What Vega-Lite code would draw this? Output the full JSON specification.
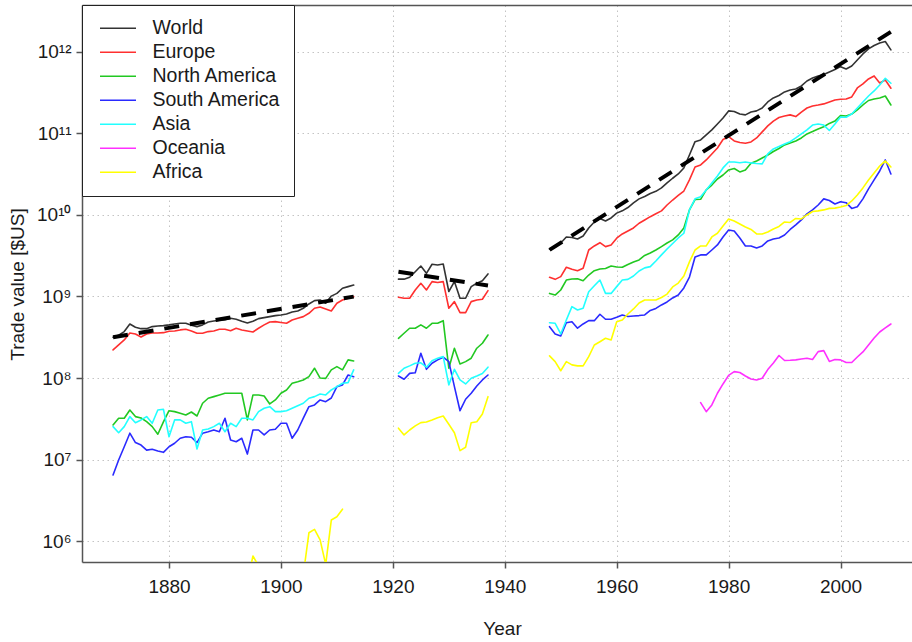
{
  "$schema": "https://vega.github.io/schema/vega-lite/v6.json",
  "width": 830,
  "height": 557,
  "autosize": {"type": "none"},
  "padding": {"left": 82, "top": 5, "right": 0, "bottom": 80},
  "background": "white",
  "config": {
    "view": {"stroke": null},
    "font": "Liberation Sans",
    "axis": {
      "domainColor": "#555555", "domainWidth": 1.5,
      "tickColor": "#555555", "tickWidth": 1.5, "tickSize": 6,
      "labelFontSize": 19, "labelColor": "#1a1a1a", "labelFont": "Liberation Sans",
      "titleFontSize": 19, "titleFontWeight": "normal", "titleColor": "#1a1a1a", "titleFont": "Liberation Sans",
      "gridColor": "#c4c4c4", "gridDash": [1.5, 3.5], "gridWidth": 1,
      "labelOverlap": false, "labelFlush": false
    }
  },
  "datasets": {
    "trade": [
      {"region":"World","period":"1","year":1870,"value":3.16e8},{"region":"World","period":"1","year":1871,"value":3.35e8},{"region":"World","period":"1","year":1872,"value":3.71e8},{"region":"World","period":"1","year":1873,"value":4.60e8},{"region":"World","period":"1","year":1874,"value":4.19e8},{"region":"World","period":"1","year":1875,"value":4.03e8},{"region":"World","period":"1","year":1876,"value":4.03e8},{"region":"World","period":"1","year":1877,"value":4.27e8},{"region":"World","period":"1","year":1878,"value":4.35e8},{"region":"World","period":"1","year":1879,"value":4.39e8},{"region":"World","period":"1","year":1880,"value":4.48e8},{"region":"World","period":"1","year":1881,"value":4.60e8},{"region":"World","period":"1","year":1882,"value":4.70e8},{"region":"World","period":"1","year":1883,"value":4.70e8},{"region":"World","period":"1","year":1884,"value":4.44e8},{"region":"World","period":"1","year":1885,"value":4.27e8},{"region":"World","period":"1","year":1886,"value":4.48e8},{"region":"World","period":"1","year":1887,"value":4.87e8},{"region":"World","period":"1","year":1888,"value":5.01e8},{"region":"World","period":"1","year":1889,"value":5.11e8},{"region":"World","period":"1","year":1890,"value":5.20e8},{"region":"World","period":"1","year":1891,"value":5.41e8},{"region":"World","period":"1","year":1892,"value":5.26e8},{"region":"World","period":"1","year":1893,"value":4.97e8},{"region":"World","period":"1","year":1894,"value":4.73e8},{"region":"World","period":"1","year":1895,"value":4.97e8},{"region":"World","period":"1","year":1896,"value":5.35e8},{"region":"World","period":"1","year":1897,"value":5.50e8},{"region":"World","period":"1","year":1898,"value":5.66e8},{"region":"World","period":"1","year":1899,"value":5.82e8},{"region":"World","period":"1","year":1900,"value":5.93e8},{"region":"World","period":"1","year":1901,"value":6.10e8},{"region":"World","period":"1","year":1902,"value":6.46e8},{"region":"World","period":"1","year":1903,"value":6.64e8},{"region":"World","period":"1","year":1904,"value":7.17e8},{"region":"World","period":"1","year":1905,"value":8.09e8},{"region":"World","period":"1","year":1906,"value":8.88e8},{"region":"World","period":"1","year":1907,"value":9.06e8},{"region":"World","period":"1","year":1908,"value":8.26e8},{"region":"World","period":"1","year":1909,"value":1.01e9},{"region":"World","period":"1","year":1910,"value":1.09e9},{"region":"World","period":"1","year":1911,"value":1.26e9},{"region":"World","period":"1","year":1912,"value":1.32e9},{"region":"World","period":"1","year":1913,"value":1.38e9},
      {"region":"World","period":"2","year":1921,"value":1.63e9},{"region":"World","period":"2","year":1922,"value":1.63e9},{"region":"World","period":"2","year":1923,"value":1.72e9},{"region":"World","period":"2","year":1924,"value":2.01e9},{"region":"World","period":"2","year":1925,"value":2.36e9},{"region":"World","period":"2","year":1926,"value":1.92e9},{"region":"World","period":"2","year":1927,"value":2.48e9},{"region":"World","period":"2","year":1928,"value":2.43e9},{"region":"World","period":"2","year":1929,"value":2.50e9},{"region":"World","period":"2","year":1930,"value":1.15e9},{"region":"World","period":"2","year":1931,"value":1.52e9},{"region":"World","period":"2","year":1932,"value":9.5e8},{"region":"World","period":"2","year":1933,"value":9.5e8},{"region":"World","period":"2","year":1934,"value":1.32e9},{"region":"World","period":"2","year":1935,"value":1.45e9},{"region":"World","period":"2","year":1936,"value":1.56e9},{"region":"World","period":"2","year":1937,"value":1.89e9},
      {"region":"World","period":"3","year":1948,"value":3.79e9},{"region":"World","period":"3","year":1949,"value":4.04e9},{"region":"World","period":"3","year":1950,"value":4.52e9},{"region":"World","period":"3","year":1951,"value":5.36e9},{"region":"World","period":"3","year":1952,"value":5.28e9},{"region":"World","period":"3","year":1953,"value":5.07e9},{"region":"World","period":"3","year":1954,"value":5.51e9},{"region":"World","period":"3","year":1955,"value":6.91e9},{"region":"World","period":"3","year":1956,"value":8.18e9},{"region":"World","period":"3","year":1957,"value":9.03e9},{"region":"World","period":"3","year":1958,"value":8.42e9},{"region":"World","period":"3","year":1959,"value":9.16e9},{"region":"World","period":"3","year":1960,"value":1.05e10},{"region":"World","period":"3","year":1961,"value":1.12e10},{"region":"World","period":"3","year":1962,"value":1.23e10},{"region":"World","period":"3","year":1963,"value":1.40e10},{"region":"World","period":"3","year":1964,"value":1.57e10},{"region":"World","period":"3","year":1965,"value":1.68e10},{"region":"World","period":"3","year":1966,"value":1.83e10},{"region":"World","period":"3","year":1967,"value":1.94e10},{"region":"World","period":"3","year":1968,"value":2.14e10},{"region":"World","period":"3","year":1969,"value":2.46e10},{"region":"World","period":"3","year":1970,"value":2.81e10},{"region":"World","period":"3","year":1971,"value":3.17e10},{"region":"World","period":"3","year":1972,"value":3.76e10},{"region":"World","period":"3","year":1973,"value":5.42e10},{"region":"World","period":"3","year":1974,"value":7.89e10},{"region":"World","period":"3","year":1975,"value":8.28e10},{"region":"World","period":"3","year":1976,"value":9.53e10},{"region":"World","period":"3","year":1977,"value":1.10e11},{"region":"World","period":"3","year":1978,"value":1.30e11},{"region":"World","period":"3","year":1979,"value":1.54e11},{"region":"World","period":"3","year":1980,"value":1.88e11},{"region":"World","period":"3","year":1981,"value":1.85e11},{"region":"World","period":"3","year":1982,"value":1.72e11},{"region":"World","period":"3","year":1983,"value":1.68e11},{"region":"World","period":"3","year":1984,"value":1.82e11},{"region":"World","period":"3","year":1985,"value":1.88e11},{"region":"World","period":"3","year":1986,"value":2.04e11},{"region":"World","period":"3","year":1987,"value":2.42e11},{"region":"World","period":"3","year":1988,"value":2.71e11},{"region":"World","period":"3","year":1989,"value":2.90e11},{"region":"World","period":"3","year":1990,"value":3.21e11},{"region":"World","period":"3","year":1991,"value":3.39e11},{"region":"World","period":"3","year":1992,"value":3.49e11},{"region":"World","period":"3","year":1993,"value":3.80e11},{"region":"World","period":"3","year":1994,"value":4.37e11},{"region":"World","period":"3","year":1995,"value":4.76e11},{"region":"World","period":"3","year":1996,"value":5.04e11},{"region":"World","period":"3","year":1997,"value":5.26e11},{"region":"World","period":"3","year":1998,"value":5.64e11},{"region":"World","period":"3","year":1999,"value":6.05e11},{"region":"World","period":"3","year":2000,"value":6.55e11},{"region":"World","period":"3","year":2001,"value":6.14e11},{"region":"World","period":"3","year":2002,"value":6.68e11},{"region":"World","period":"3","year":2003,"value":7.91e11},{"region":"World","period":"3","year":2004,"value":9.37e11},{"region":"World","period":"3","year":2005,"value":1.08e12},{"region":"World","period":"3","year":2006,"value":1.19e12},{"region":"World","period":"3","year":2007,"value":1.28e12},{"region":"World","period":"3","year":2008,"value":1.33e12},{"region":"World","period":"3","year":2009,"value":1.05e12},
      {"region":"Europe","period":"1","year":1870,"value":2.21e8},{"region":"Europe","period":"1","year":1871,"value":2.55e8},{"region":"Europe","period":"1","year":1872,"value":2.93e8},{"region":"Europe","period":"1","year":1873,"value":3.57e8},{"region":"Europe","period":"1","year":1874,"value":3.47e8},{"region":"Europe","period":"1","year":1875,"value":3.19e8},{"region":"Europe","period":"1","year":1876,"value":3.47e8},{"region":"Europe","period":"1","year":1877,"value":3.57e8},{"region":"Europe","period":"1","year":1878,"value":3.57e8},{"region":"Europe","period":"1","year":1879,"value":3.60e8},{"region":"Europe","period":"1","year":1880,"value":3.75e8},{"region":"Europe","period":"1","year":1881,"value":3.78e8},{"region":"Europe","period":"1","year":1882,"value":3.89e8},{"region":"Europe","period":"1","year":1883,"value":3.96e8},{"region":"Europe","period":"1","year":1884,"value":3.78e8},{"region":"Europe","period":"1","year":1885,"value":3.54e8},{"region":"Europe","period":"1","year":1886,"value":3.54e8},{"region":"Europe","period":"1","year":1887,"value":3.71e8},{"region":"Europe","period":"1","year":1888,"value":3.78e8},{"region":"Europe","period":"1","year":1889,"value":3.96e8},{"region":"Europe","period":"1","year":1890,"value":3.96e8},{"region":"Europe","period":"1","year":1891,"value":3.81e8},{"region":"Europe","period":"1","year":1892,"value":4.08e8},{"region":"Europe","period":"1","year":1893,"value":3.89e8},{"region":"Europe","period":"1","year":1894,"value":3.78e8},{"region":"Europe","period":"1","year":1895,"value":3.67e8},{"region":"Europe","period":"1","year":1896,"value":4.08e8},{"region":"Europe","period":"1","year":1897,"value":4.48e8},{"region":"Europe","period":"1","year":1898,"value":4.87e8},{"region":"Europe","period":"1","year":1899,"value":4.91e8},{"region":"Europe","period":"1","year":1900,"value":4.80e8},{"region":"Europe","period":"1","year":1901,"value":4.70e8},{"region":"Europe","period":"1","year":1902,"value":5.15e8},{"region":"Europe","period":"1","year":1903,"value":5.41e8},{"region":"Europe","period":"1","year":1904,"value":5.66e8},{"region":"Europe","period":"1","year":1905,"value":6.22e8},{"region":"Europe","period":"1","year":1906,"value":7.17e8},{"region":"Europe","period":"1","year":1907,"value":7.43e8},{"region":"Europe","period":"1","year":1908,"value":7.03e8},{"region":"Europe","period":"1","year":1909,"value":6.64e8},{"region":"Europe","period":"1","year":1910,"value":8.26e8},{"region":"Europe","period":"1","year":1911,"value":9.06e8},{"region":"Europe","period":"1","year":1912,"value":9.51e8},{"region":"Europe","period":"1","year":1913,"value":9.95e8},
      {"region":"Europe","period":"2","year":1921,"value":9.78e8},{"region":"Europe","period":"2","year":1922,"value":9.5e8},{"region":"Europe","period":"2","year":1923,"value":9.5e8},{"region":"Europe","period":"2","year":1924,"value":1.20e9},{"region":"Europe","period":"2","year":1925,"value":1.45e9},{"region":"Europe","period":"2","year":1926,"value":1.20e9},{"region":"Europe","period":"2","year":1927,"value":1.52e9},{"region":"Europe","period":"2","year":1928,"value":1.48e9},{"region":"Europe","period":"2","year":1929,"value":1.52e9},{"region":"Europe","period":"2","year":1930,"value":7.17e8},{"region":"Europe","period":"2","year":1931,"value":8.64e8},{"region":"Europe","period":"2","year":1932,"value":6.33e8},{"region":"Europe","period":"2","year":1933,"value":6.33e8},{"region":"Europe","period":"2","year":1934,"value":8.64e8},{"region":"Europe","period":"2","year":1935,"value":9.06e8},{"region":"Europe","period":"2","year":1936,"value":9.24e8},{"region":"Europe","period":"2","year":1937,"value":1.18e9},
      {"region":"Europe","period":"3","year":1948,"value":1.72e9},{"region":"Europe","period":"3","year":1949,"value":1.62e9},{"region":"Europe","period":"3","year":1950,"value":1.75e9},{"region":"Europe","period":"3","year":1951,"value":2.28e9},{"region":"Europe","period":"3","year":1952,"value":2.15e9},{"region":"Europe","period":"3","year":1953,"value":2.07e9},{"region":"Europe","period":"3","year":1954,"value":2.22e9},{"region":"Europe","period":"3","year":1955,"value":3.71e9},{"region":"Europe","period":"3","year":1956,"value":4.16e9},{"region":"Europe","period":"3","year":1957,"value":4.56e9},{"region":"Europe","period":"3","year":1958,"value":4.08e9},{"region":"Europe","period":"3","year":1959,"value":4.28e9},{"region":"Europe","period":"3","year":1960,"value":5.17e9},{"region":"Europe","period":"3","year":1961,"value":5.83e9},{"region":"Europe","period":"3","year":1962,"value":6.35e9},{"region":"Europe","period":"3","year":1963,"value":6.91e9},{"region":"Europe","period":"3","year":1964,"value":7.89e9},{"region":"Europe","period":"3","year":1965,"value":8.66e9},{"region":"Europe","period":"3","year":1966,"value":9.50e9},{"region":"Europe","period":"3","year":1967,"value":1.03e10},{"region":"Europe","period":"3","year":1968,"value":1.12e10},{"region":"Europe","period":"3","year":1969,"value":1.32e10},{"region":"Europe","period":"3","year":1970,"value":1.52e10},{"region":"Europe","period":"3","year":1971,"value":1.73e10},{"region":"Europe","period":"3","year":1972,"value":1.96e10},{"region":"Europe","period":"3","year":1973,"value":2.68e10},{"region":"Europe","period":"3","year":1974,"value":3.86e10},{"region":"Europe","period":"3","year":1975,"value":4.09e10},{"region":"Europe","period":"3","year":1976,"value":4.71e10},{"region":"Europe","period":"3","year":1977,"value":5.58e10},{"region":"Europe","period":"3","year":1978,"value":6.60e10},{"region":"Europe","period":"3","year":1979,"value":8.39e10},{"region":"Europe","period":"3","year":1980,"value":9.08e10},{"region":"Europe","period":"3","year":1981,"value":8.04e10},{"region":"Europe","period":"3","year":1982,"value":7.71e10},{"region":"Europe","period":"3","year":1983,"value":7.54e10},{"region":"Europe","period":"3","year":1984,"value":7.82e10},{"region":"Europe","period":"3","year":1985,"value":8.76e10},{"region":"Europe","period":"3","year":1986,"value":1.04e11},{"region":"Europe","period":"3","year":1987,"value":1.23e11},{"region":"Europe","period":"3","year":1988,"value":1.41e11},{"region":"Europe","period":"3","year":1989,"value":1.56e11},{"region":"Europe","period":"3","year":1990,"value":1.63e11},{"region":"Europe","period":"3","year":1991,"value":1.68e11},{"region":"Europe","period":"3","year":1992,"value":1.60e11},{"region":"Europe","period":"3","year":1993,"value":1.82e11},{"region":"Europe","period":"3","year":1994,"value":2.04e11},{"region":"Europe","period":"3","year":1995,"value":2.16e11},{"region":"Europe","period":"3","year":1996,"value":2.22e11},{"region":"Europe","period":"3","year":1997,"value":2.29e11},{"region":"Europe","period":"3","year":1998,"value":2.42e11},{"region":"Europe","period":"3","year":1999,"value":2.56e11},{"region":"Europe","period":"3","year":2000,"value":2.61e11},{"region":"Europe","period":"3","year":2001,"value":2.63e11},{"region":"Europe","period":"3","year":2002,"value":2.79e11},{"region":"Europe","period":"3","year":2003,"value":3.59e11},{"region":"Europe","period":"3","year":2004,"value":4.02e11},{"region":"Europe","period":"3","year":2005,"value":4.63e11},{"region":"Europe","period":"3","year":2006,"value":5.04e11},{"region":"Europe","period":"3","year":2007,"value":4.13e11},{"region":"Europe","period":"3","year":2008,"value":4.50e11},{"region":"Europe","period":"3","year":2009,"value":3.56e11},
      {"region":"North America","period":"1","year":1870,"value":2.66e7},{"region":"North America","period":"1","year":1871,"value":3.22e7},{"region":"North America","period":"1","year":1872,"value":3.22e7},{"region":"North America","period":"1","year":1873,"value":4.06e7},{"region":"North America","period":"1","year":1874,"value":3.37e7},{"region":"North America","period":"1","year":1875,"value":3.24e7},{"region":"North America","period":"1","year":1876,"value":2.92e7},{"region":"North America","period":"1","year":1877,"value":2.54e7},{"region":"North America","period":"1","year":1878,"value":2.05e7},{"region":"North America","period":"1","year":1879,"value":2.9e7},{"region":"North America","period":"1","year":1880,"value":3.98e7},{"region":"North America","period":"1","year":1881,"value":3.88e7},{"region":"North America","period":"1","year":1882,"value":3.71e7},{"region":"North America","period":"1","year":1883,"value":3.53e7},{"region":"North America","period":"1","year":1884,"value":3.84e7},{"region":"North America","period":"1","year":1885,"value":3.43e7},{"region":"North America","period":"1","year":1886,"value":4.91e7},{"region":"North America","period":"1","year":1887,"value":5.66e7},{"region":"North America","period":"1","year":1888,"value":5.92e7},{"region":"North America","period":"1","year":1889,"value":6.21e7},{"region":"North America","period":"1","year":1890,"value":6.51e7},{"region":"North America","period":"1","year":1891,"value":6.51e7},{"region":"North America","period":"1","year":1892,"value":6.51e7},{"region":"North America","period":"1","year":1893,"value":6.51e7},{"region":"North America","period":"1","year":1894,"value":3.07e7},{"region":"North America","period":"1","year":1895,"value":6.21e7},{"region":"North America","period":"1","year":1896,"value":6.21e7},{"region":"North America","period":"1","year":1897,"value":6.03e7},{"region":"North America","period":"1","year":1898,"value":4.82e7},{"region":"North America","period":"1","year":1899,"value":5.39e7},{"region":"North America","period":"1","year":1900,"value":6.51e7},{"region":"North America","period":"1","year":1901,"value":7.15e7},{"region":"North America","period":"1","year":1902,"value":8.64e7},{"region":"North America","period":"1","year":1903,"value":9.03e7},{"region":"North America","period":"1","year":1904,"value":9.48e7},{"region":"North America","period":"1","year":1905,"value":1.04e8},{"region":"North America","period":"1","year":1906,"value":1.32e8},{"region":"North America","period":"1","year":1907,"value":1.00e8},{"region":"North America","period":"1","year":1908,"value":9.9e7},{"region":"North America","period":"1","year":1909,"value":1.26e8},{"region":"North America","period":"1","year":1910,"value":1.38e8},{"region":"North America","period":"1","year":1911,"value":1.26e8},{"region":"North America","period":"1","year":1912,"value":1.67e8},{"region":"North America","period":"1","year":1913,"value":1.62e8},
      {"region":"North America","period":"2","year":1921,"value":3.07e8},{"region":"North America","period":"2","year":1922,"value":3.54e8},{"region":"North America","period":"2","year":1923,"value":4.08e8},{"region":"North America","period":"2","year":1924,"value":4.08e8},{"region":"North America","period":"2","year":1925,"value":4.48e8},{"region":"North America","period":"2","year":1926,"value":4.08e8},{"region":"North America","period":"2","year":1927,"value":4.69e8},{"region":"North America","period":"2","year":1928,"value":4.69e8},{"region":"North America","period":"2","year":1929,"value":5.05e8},{"region":"North America","period":"2","year":1930,"value":1.32e8},{"region":"North America","period":"2","year":1931,"value":2.32e8},{"region":"North America","period":"2","year":1932,"value":1.49e8},{"region":"North America","period":"2","year":1933,"value":1.59e8},{"region":"North America","period":"2","year":1934,"value":1.75e8},{"region":"North America","period":"2","year":1935,"value":2.32e8},{"region":"North America","period":"2","year":1936,"value":2.67e8},{"region":"North America","period":"2","year":1937,"value":3.37e8},
      {"region":"North America","period":"3","year":1948,"value":1.09e9},{"region":"North America","period":"3","year":1949,"value":1.04e9},{"region":"North America","period":"3","year":1950,"value":1.20e9},{"region":"North America","period":"3","year":1951,"value":1.59e9},{"region":"North America","period":"3","year":1952,"value":1.64e9},{"region":"North America","period":"3","year":1953,"value":1.65e9},{"region":"North America","period":"3","year":1954,"value":1.56e9},{"region":"North America","period":"3","year":1955,"value":1.83e9},{"region":"North America","period":"3","year":1956,"value":2.07e9},{"region":"North America","period":"3","year":1957,"value":2.17e9},{"region":"North America","period":"3","year":1958,"value":2.20e9},{"region":"North America","period":"3","year":1959,"value":2.36e9},{"region":"North America","period":"3","year":1960,"value":2.30e9},{"region":"North America","period":"3","year":1961,"value":2.28e9},{"region":"North America","period":"3","year":1962,"value":2.47e9},{"region":"North America","period":"3","year":1963,"value":2.65e9},{"region":"North America","period":"3","year":1964,"value":2.80e9},{"region":"North America","period":"3","year":1965,"value":3.18e9},{"region":"North America","period":"3","year":1966,"value":3.41e9},{"region":"North America","period":"3","year":1967,"value":3.71e9},{"region":"North America","period":"3","year":1968,"value":4.08e9},{"region":"North America","period":"3","year":1969,"value":4.52e9},{"region":"North America","period":"3","year":1970,"value":4.93e9},{"region":"North America","period":"3","year":1971,"value":5.67e9},{"region":"North America","period":"3","year":1972,"value":6.91e9},{"region":"North America","period":"3","year":1973,"value":1.15e10},{"region":"North America","period":"3","year":1974,"value":1.54e10},{"region":"North America","period":"3","year":1975,"value":1.55e10},{"region":"North America","period":"3","year":1976,"value":2.02e10},{"region":"North America","period":"3","year":1977,"value":2.32e10},{"region":"North America","period":"3","year":1978,"value":2.75e10},{"region":"North America","period":"3","year":1979,"value":3.08e10},{"region":"North America","period":"3","year":1980,"value":3.55e10},{"region":"North America","period":"3","year":1981,"value":3.70e10},{"region":"North America","period":"3","year":1982,"value":3.36e10},{"region":"North America","period":"3","year":1983,"value":3.55e10},{"region":"North America","period":"3","year":1984,"value":4.29e10},{"region":"North America","period":"3","year":1985,"value":4.58e10},{"region":"North America","period":"3","year":1986,"value":4.98e10},{"region":"North America","period":"3","year":1987,"value":5.42e10},{"region":"North America","period":"3","year":1988,"value":5.98e10},{"region":"North America","period":"3","year":1989,"value":6.51e10},{"region":"North America","period":"3","year":1990,"value":7.19e10},{"region":"North America","period":"3","year":1991,"value":7.61e10},{"region":"North America","period":"3","year":1992,"value":8.04e10},{"region":"North America","period":"3","year":1993,"value":8.76e10},{"region":"North America","period":"3","year":1994,"value":9.80e10},{"region":"North America","period":"3","year":1995,"value":1.05e11},{"region":"North America","period":"3","year":1996,"value":1.13e11},{"region":"North America","period":"3","year":1997,"value":1.20e11},{"region":"North America","period":"3","year":1998,"value":1.32e11},{"region":"North America","period":"3","year":1999,"value":1.41e11},{"region":"North America","period":"3","year":2000,"value":1.65e11},{"region":"North America","period":"3","year":2001,"value":1.63e11},{"region":"North America","period":"3","year":2002,"value":1.72e11},{"region":"North America","period":"3","year":2003,"value":1.93e11},{"region":"North America","period":"3","year":2004,"value":2.22e11},{"region":"North America","period":"3","year":2005,"value":2.52e11},{"region":"North America","period":"3","year":2006,"value":2.63e11},{"region":"North America","period":"3","year":2007,"value":2.71e11},{"region":"North America","period":"3","year":2008,"value":2.86e11},{"region":"North America","period":"3","year":2009,"value":2.22e11},
      {"region":"South America","period":"1","year":1870,"value":6.49e6},{"region":"South America","period":"1","year":1871,"value":9.92e6},{"region":"South America","period":"1","year":1872,"value":1.44e7},{"region":"South America","period":"1","year":1873,"value":2.11e7},{"region":"South America","period":"1","year":1874,"value":1.62e7},{"region":"South America","period":"1","year":1875,"value":1.51e7},{"region":"South America","period":"1","year":1876,"value":1.31e7},{"region":"South America","period":"1","year":1877,"value":1.34e7},{"region":"South America","period":"1","year":1878,"value":1.28e7},{"region":"South America","period":"1","year":1879,"value":1.23e7},{"region":"South America","period":"1","year":1880,"value":1.44e7},{"region":"South America","period":"1","year":1881,"value":1.59e7},{"region":"South America","period":"1","year":1882,"value":1.83e7},{"region":"South America","period":"1","year":1883,"value":1.91e7},{"region":"South America","period":"1","year":1884,"value":1.88e7},{"region":"South America","period":"1","year":1885,"value":1.62e7},{"region":"South America","period":"1","year":1886,"value":2.11e7},{"region":"South America","period":"1","year":1887,"value":2.20e7},{"region":"South America","period":"1","year":1888,"value":2.31e7},{"region":"South America","period":"1","year":1889,"value":2.20e7},{"region":"South America","period":"1","year":1890,"value":3.22e7},{"region":"South America","period":"1","year":1891,"value":1.74e7},{"region":"South America","period":"1","year":1892,"value":1.66e7},{"region":"South America","period":"1","year":1893,"value":1.83e7},{"region":"South America","period":"1","year":1894,"value":1.17e7},{"region":"South America","period":"1","year":1895,"value":2.31e7},{"region":"South America","period":"1","year":1896,"value":2.31e7},{"region":"South America","period":"1","year":1897,"value":2.01e7},{"region":"South America","period":"1","year":1898,"value":2.31e7},{"region":"South America","period":"1","year":1899,"value":2.36e7},{"region":"South America","period":"1","year":1900,"value":2.79e7},{"region":"South America","period":"1","year":1901,"value":2.79e7},{"region":"South America","period":"1","year":1902,"value":1.83e7},{"region":"South America","period":"1","year":1903,"value":2.31e7},{"region":"South America","period":"1","year":1904,"value":3.22e7},{"region":"South America","period":"1","year":1905,"value":4.46e7},{"region":"South America","period":"1","year":1906,"value":4.68e7},{"region":"South America","period":"1","year":1907,"value":5.39e7},{"region":"South America","period":"1","year":1908,"value":5.14e7},{"region":"South America","period":"1","year":1909,"value":5.70e7},{"region":"South America","period":"1","year":1910,"value":7.85e7},{"region":"South America","period":"1","year":1911,"value":8.23e7},{"region":"South America","period":"1","year":1912,"value":1.09e8},{"region":"South America","period":"1","year":1913,"value":1.04e8},
      {"region":"South America","period":"2","year":1921,"value":1.06e8},{"region":"South America","period":"2","year":1922,"value":9.67e7},{"region":"South America","period":"2","year":1923,"value":1.14e8},{"region":"South America","period":"2","year":1924,"value":1.16e8},{"region":"South America","period":"2","year":1925,"value":2.01e8},{"region":"South America","period":"2","year":1926,"value":1.28e8},{"region":"South America","period":"2","year":1927,"value":1.52e8},{"region":"South America","period":"2","year":1928,"value":1.67e8},{"region":"South America","period":"2","year":1929,"value":1.80e8},{"region":"South America","period":"2","year":1930,"value":1.59e8},{"region":"South America","period":"2","year":1931,"value":7.85e7},{"region":"South America","period":"2","year":1932,"value":3.98e7},{"region":"South America","period":"2","year":1933,"value":5.50e7},{"region":"South America","period":"2","year":1934,"value":6.51e7},{"region":"South America","period":"2","year":1935,"value":8.0e7},{"region":"South America","period":"2","year":1936,"value":9.48e7},{"region":"South America","period":"2","year":1937,"value":1.09e8},
      {"region":"South America","period":"3","year":1948,"value":4.26e8},{"region":"South America","period":"3","year":1949,"value":3.47e8},{"region":"South America","period":"3","year":1950,"value":3.28e8},{"region":"South America","period":"3","year":1951,"value":4.77e8},{"region":"South America","period":"3","year":1952,"value":4.91e8},{"region":"South America","period":"3","year":1953,"value":4.08e8},{"region":"South America","period":"3","year":1954,"value":4.60e8},{"region":"South America","period":"3","year":1955,"value":5.05e8},{"region":"South America","period":"3","year":1956,"value":5.05e8},{"region":"South America","period":"3","year":1957,"value":6.05e8},{"region":"South America","period":"3","year":1958,"value":5.26e8},{"region":"South America","period":"3","year":1959,"value":5.26e8},{"region":"South America","period":"3","year":1960,"value":5.56e8},{"region":"South America","period":"3","year":1961,"value":5.93e8},{"region":"South America","period":"3","year":1962,"value":5.69e8},{"region":"South America","period":"3","year":1963,"value":5.76e8},{"region":"South America","period":"3","year":1964,"value":5.83e8},{"region":"South America","period":"3","year":1965,"value":5.93e8},{"region":"South America","period":"3","year":1966,"value":6.74e8},{"region":"South America","period":"3","year":1967,"value":7.13e8},{"region":"South America","period":"3","year":1968,"value":7.87e8},{"region":"South America","period":"3","year":1969,"value":8.56e8},{"region":"South America","period":"3","year":1970,"value":9.59e8},{"region":"South America","period":"3","year":1971,"value":1.04e9},{"region":"South America","period":"3","year":1972,"value":1.27e9},{"region":"South America","period":"3","year":1973,"value":1.73e9},{"region":"South America","period":"3","year":1974,"value":3.05e9},{"region":"South America","period":"3","year":1975,"value":3.23e9},{"region":"South America","period":"3","year":1976,"value":3.23e9},{"region":"South America","period":"3","year":1977,"value":3.71e9},{"region":"South America","period":"3","year":1978,"value":4.28e9},{"region":"South America","period":"3","year":1979,"value":5.36e9},{"region":"South America","period":"3","year":1980,"value":6.53e9},{"region":"South America","period":"3","year":1981,"value":6.35e9},{"region":"South America","period":"3","year":1982,"value":5.21e9},{"region":"South America","period":"3","year":1983,"value":4.16e9},{"region":"South America","period":"3","year":1984,"value":4.16e9},{"region":"South America","period":"3","year":1985,"value":3.93e9},{"region":"South America","period":"3","year":1986,"value":4.16e9},{"region":"South America","period":"3","year":1987,"value":4.79e9},{"region":"South America","period":"3","year":1988,"value":5.07e9},{"region":"South America","period":"3","year":1989,"value":5.21e9},{"region":"South America","period":"3","year":1990,"value":5.67e9},{"region":"South America","period":"3","year":1991,"value":6.62e9},{"region":"South America","period":"3","year":1992,"value":7.52e9},{"region":"South America","period":"3","year":1993,"value":8.66e9},{"region":"South America","period":"3","year":1994,"value":1.03e10},{"region":"South America","period":"3","year":1995,"value":1.15e10},{"region":"South America","period":"3","year":1996,"value":1.32e10},{"region":"South America","period":"3","year":1997,"value":1.57e10},{"region":"South America","period":"3","year":1998,"value":1.50e10},{"region":"South America","period":"3","year":1999,"value":1.36e10},{"region":"South America","period":"3","year":2000,"value":1.45e10},{"region":"South America","period":"3","year":2001,"value":1.41e10},{"region":"South America","period":"3","year":2002,"value":1.20e10},{"region":"South America","period":"3","year":2003,"value":1.26e10},{"region":"South America","period":"3","year":2004,"value":1.57e10},{"region":"South America","period":"3","year":2005,"value":2.08e10},{"region":"South America","period":"3","year":2006,"value":2.68e10},{"region":"South America","period":"3","year":2007,"value":3.45e10},{"region":"South America","period":"3","year":2008,"value":4.71e10},{"region":"South America","period":"3","year":2009,"value":3.17e10},
      {"region":"Asia","period":"1","year":1870,"value":2.54e7},{"region":"Asia","period":"1","year":1871,"value":2.14e7},{"region":"Asia","period":"1","year":1872,"value":2.54e7},{"region":"Asia","period":"1","year":1873,"value":3.37e7},{"region":"Asia","period":"1","year":1874,"value":2.84e7},{"region":"Asia","period":"1","year":1875,"value":3.07e7},{"region":"Asia","period":"1","year":1876,"value":3.37e7},{"region":"Asia","period":"1","year":1877,"value":2.79e7},{"region":"Asia","period":"1","year":1878,"value":4.06e7},{"region":"Asia","period":"1","year":1879,"value":4.15e7},{"region":"Asia","period":"1","year":1880,"value":1.91e7},{"region":"Asia","period":"1","year":1881,"value":3.07e7},{"region":"Asia","period":"1","year":1882,"value":3.07e7},{"region":"Asia","period":"1","year":1883,"value":2.79e7},{"region":"Asia","period":"1","year":1884,"value":2.92e7},{"region":"Asia","period":"1","year":1885,"value":1.35e7},{"region":"Asia","period":"1","year":1886,"value":2.31e7},{"region":"Asia","period":"1","year":1887,"value":2.38e7},{"region":"Asia","period":"1","year":1888,"value":2.54e7},{"region":"Asia","period":"1","year":1889,"value":2.79e7},{"region":"Asia","period":"1","year":1890,"value":2.20e7},{"region":"Asia","period":"1","year":1891,"value":2.79e7},{"region":"Asia","period":"1","year":1892,"value":2.54e7},{"region":"Asia","period":"1","year":1893,"value":3.22e7},{"region":"Asia","period":"1","year":1894,"value":3.22e7},{"region":"Asia","period":"1","year":1895,"value":3.07e7},{"region":"Asia","period":"1","year":1896,"value":3.88e7},{"region":"Asia","period":"1","year":1897,"value":4.27e7},{"region":"Asia","period":"1","year":1898,"value":4.46e7},{"region":"Asia","period":"1","year":1899,"value":3.88e7},{"region":"Asia","period":"1","year":1900,"value":3.88e7},{"region":"Asia","period":"1","year":1901,"value":3.98e7},{"region":"Asia","period":"1","year":1902,"value":4.27e7},{"region":"Asia","period":"1","year":1903,"value":4.59e7},{"region":"Asia","period":"1","year":1904,"value":4.91e7},{"region":"Asia","period":"1","year":1905,"value":5.66e7},{"region":"Asia","period":"1","year":1906,"value":5.92e7},{"region":"Asia","period":"1","year":1907,"value":6.38e7},{"region":"Asia","period":"1","year":1908,"value":6.21e7},{"region":"Asia","period":"1","year":1909,"value":7.15e7},{"region":"Asia","period":"1","year":1910,"value":7.85e7},{"region":"Asia","period":"1","year":1911,"value":8.64e7},{"region":"Asia","period":"1","year":1912,"value":8.78e7},{"region":"Asia","period":"1","year":1913,"value":1.26e8},
      {"region":"Asia","period":"2","year":1921,"value":1.14e8},{"region":"Asia","period":"2","year":1922,"value":1.32e8},{"region":"Asia","period":"2","year":1923,"value":1.41e8},{"region":"Asia","period":"2","year":1924,"value":1.52e8},{"region":"Asia","period":"2","year":1925,"value":1.54e8},{"region":"Asia","period":"2","year":1926,"value":1.36e8},{"region":"Asia","period":"2","year":1927,"value":1.63e8},{"region":"Asia","period":"2","year":1928,"value":1.75e8},{"region":"Asia","period":"2","year":1929,"value":1.83e8},{"region":"Asia","period":"2","year":1930,"value":8.23e7},{"region":"Asia","period":"2","year":1931,"value":1.28e8},{"region":"Asia","period":"2","year":1932,"value":9.48e7},{"region":"Asia","period":"2","year":1933,"value":8.47e7},{"region":"Asia","period":"2","year":1934,"value":9.94e7},{"region":"Asia","period":"2","year":1935,"value":1.06e8},{"region":"Asia","period":"2","year":1936,"value":1.14e8},{"region":"Asia","period":"2","year":1937,"value":1.36e8},
      {"region":"Asia","period":"3","year":1948,"value":4.77e8},{"region":"Asia","period":"3","year":1949,"value":4.69e8},{"region":"Asia","period":"3","year":1950,"value":3.47e8},{"region":"Asia","period":"3","year":1951,"value":5.15e8},{"region":"Asia","period":"3","year":1952,"value":7.50e8},{"region":"Asia","period":"3","year":1953,"value":6.83e8},{"region":"Asia","period":"3","year":1954,"value":7.17e8},{"region":"Asia","period":"3","year":1955,"value":1.14e9},{"region":"Asia","period":"3","year":1956,"value":1.35e9},{"region":"Asia","period":"3","year":1957,"value":1.59e9},{"region":"Asia","period":"3","year":1958,"value":1.09e9},{"region":"Asia","period":"3","year":1959,"value":1.09e9},{"region":"Asia","period":"3","year":1960,"value":1.32e9},{"region":"Asia","period":"3","year":1961,"value":1.59e9},{"region":"Asia","period":"3","year":1962,"value":1.62e9},{"region":"Asia","period":"3","year":1963,"value":1.78e9},{"region":"Asia","period":"3","year":1964,"value":2.05e9},{"region":"Asia","period":"3","year":1965,"value":2.24e9},{"region":"Asia","period":"3","year":1966,"value":2.32e9},{"region":"Asia","period":"3","year":1967,"value":2.72e9},{"region":"Asia","period":"3","year":1968,"value":3.23e9},{"region":"Asia","period":"3","year":1969,"value":3.82e9},{"region":"Asia","period":"3","year":1970,"value":4.46e9},{"region":"Asia","period":"3","year":1971,"value":5.21e9},{"region":"Asia","period":"3","year":1972,"value":5.95e9},{"region":"Asia","period":"3","year":1973,"value":1.15e10},{"region":"Asia","period":"3","year":1974,"value":1.57e10},{"region":"Asia","period":"3","year":1975,"value":1.67e10},{"region":"Asia","period":"3","year":1976,"value":2.02e10},{"region":"Asia","period":"3","year":1977,"value":2.46e10},{"region":"Asia","period":"3","year":1978,"value":3.00e10},{"region":"Asia","period":"3","year":1979,"value":3.76e10},{"region":"Asia","period":"3","year":1980,"value":4.45e10},{"region":"Asia","period":"3","year":1981,"value":4.45e10},{"region":"Asia","period":"3","year":1982,"value":4.36e10},{"region":"Asia","period":"3","year":1983,"value":4.45e10},{"region":"Asia","period":"3","year":1984,"value":4.33e10},{"region":"Asia","period":"3","year":1985,"value":4.26e10},{"region":"Asia","period":"3","year":1986,"value":4.21e10},{"region":"Asia","period":"3","year":1987,"value":5.58e10},{"region":"Asia","period":"3","year":1988,"value":6.42e10},{"region":"Asia","period":"3","year":1989,"value":6.89e10},{"region":"Asia","period":"3","year":1990,"value":7.39e10},{"region":"Asia","period":"3","year":1991,"value":7.89e10},{"region":"Asia","period":"3","year":1992,"value":8.76e10},{"region":"Asia","period":"3","year":1993,"value":9.80e10},{"region":"Asia","period":"3","year":1994,"value":1.10e11},{"region":"Asia","period":"3","year":1995,"value":1.26e11},{"region":"Asia","period":"3","year":1996,"value":1.30e11},{"region":"Asia","period":"3","year":1997,"value":1.26e11},{"region":"Asia","period":"3","year":1998,"value":1.08e11},{"region":"Asia","period":"3","year":1999,"value":1.30e11},{"region":"Asia","period":"3","year":2000,"value":1.58e11},{"region":"Asia","period":"3","year":2001,"value":1.57e11},{"region":"Asia","period":"3","year":2002,"value":1.72e11},{"region":"Asia","period":"3","year":2003,"value":2.04e11},{"region":"Asia","period":"3","year":2004,"value":2.42e11},{"region":"Asia","period":"3","year":2005,"value":2.86e11},{"region":"Asia","period":"3","year":2006,"value":3.30e11},{"region":"Asia","period":"3","year":2007,"value":3.91e11},{"region":"Asia","period":"3","year":2008,"value":4.72e11},{"region":"Asia","period":"3","year":2009,"value":4.10e11},
      {"region":"Oceania","period":"3","year":1975,"value":4.99e7},{"region":"Oceania","period":"3","year":1976,"value":3.87e7},{"region":"Oceania","period":"3","year":1977,"value":4.68e7},{"region":"Oceania","period":"3","year":1978,"value":6.51e7},{"region":"Oceania","period":"3","year":1979,"value":8.47e7},{"region":"Oceania","period":"3","year":1980,"value":1.08e8},{"region":"Oceania","period":"3","year":1981,"value":1.20e8},{"region":"Oceania","period":"3","year":1982,"value":1.17e8},{"region":"Oceania","period":"3","year":1983,"value":1.06e8},{"region":"Oceania","period":"3","year":1984,"value":9.75e7},{"region":"Oceania","period":"3","year":1985,"value":9.48e7},{"region":"Oceania","period":"3","year":1986,"value":9.94e7},{"region":"Oceania","period":"3","year":1987,"value":1.27e8},{"region":"Oceania","period":"3","year":1988,"value":1.53e8},{"region":"Oceania","period":"3","year":1989,"value":1.89e8},{"region":"Oceania","period":"3","year":1990,"value":1.64e8},{"region":"Oceania","period":"3","year":1991,"value":1.65e8},{"region":"Oceania","period":"3","year":1992,"value":1.67e8},{"region":"Oceania","period":"3","year":1993,"value":1.71e8},{"region":"Oceania","period":"3","year":1994,"value":1.75e8},{"region":"Oceania","period":"3","year":1995,"value":1.69e8},{"region":"Oceania","period":"3","year":1996,"value":2.11e8},{"region":"Oceania","period":"3","year":1997,"value":2.17e8},{"region":"Oceania","period":"3","year":1998,"value":1.60e8},{"region":"Oceania","period":"3","year":1999,"value":1.69e8},{"region":"Oceania","period":"3","year":2000,"value":1.67e8},{"region":"Oceania","period":"3","year":2001,"value":1.55e8},{"region":"Oceania","period":"3","year":2002,"value":1.55e8},{"region":"Oceania","period":"3","year":2003,"value":1.81e8},{"region":"Oceania","period":"3","year":2004,"value":2.09e8},{"region":"Oceania","period":"3","year":2005,"value":2.54e8},{"region":"Oceania","period":"3","year":2006,"value":3.10e8},{"region":"Oceania","period":"3","year":2007,"value":3.67e8},{"region":"Oceania","period":"3","year":2008,"value":4.11e8},{"region":"Oceania","period":"3","year":2009,"value":4.60e8},
      {"region":"Africa","period":"1a","year":1894,"value":3.2e5},{"region":"Africa","period":"1a","year":1895,"value":6.6e5},{"region":"Africa","period":"1a","year":1896,"value":5.0e5},
      {"region":"Africa","period":"1b","year":1904,"value":3.9e5},{"region":"Africa","period":"1b","year":1905,"value":1.27e6},{"region":"Africa","period":"1b","year":1906,"value":1.40e6},{"region":"Africa","period":"1b","year":1907,"value":1.04e6},{"region":"Africa","period":"1b","year":1908,"value":5.2e5},{"region":"Africa","period":"1b","year":1909,"value":1.82e6},{"region":"Africa","period":"1b","year":1910,"value":2.0e6},{"region":"Africa","period":"1b","year":1911,"value":2.47e6},
      {"region":"Africa","period":"2","year":1921,"value":2.43e7},{"region":"Africa","period":"2","year":1922,"value":2.01e7},{"region":"Africa","period":"2","year":1923,"value":2.31e7},{"region":"Africa","period":"2","year":1924,"value":2.59e7},{"region":"Africa","period":"2","year":1925,"value":2.84e7},{"region":"Africa","period":"2","year":1926,"value":2.90e7},{"region":"Africa","period":"2","year":1927,"value":3.07e7},{"region":"Africa","period":"2","year":1928,"value":3.27e7},{"region":"Africa","period":"2","year":1929,"value":3.43e7},{"region":"Africa","period":"2","year":1930,"value":2.72e7},{"region":"Africa","period":"2","year":1931,"value":2.14e7},{"region":"Africa","period":"2","year":1932,"value":1.29e7},{"region":"Africa","period":"2","year":1933,"value":1.42e7},{"region":"Africa","period":"2","year":1934,"value":2.84e7},{"region":"Africa","period":"2","year":1935,"value":2.92e7},{"region":"Africa","period":"2","year":1936,"value":3.63e7},{"region":"Africa","period":"2","year":1937,"value":5.92e7},
      {"region":"Africa","period":"3","year":1948,"value":1.87e8},{"region":"Africa","period":"3","year":1949,"value":1.59e8},{"region":"Africa","period":"3","year":1950,"value":1.23e8},{"region":"Africa","period":"3","year":1951,"value":1.59e8},{"region":"Africa","period":"3","year":1952,"value":1.45e8},{"region":"Africa","period":"3","year":1953,"value":1.41e8},{"region":"Africa","period":"3","year":1954,"value":1.41e8},{"region":"Africa","period":"3","year":1955,"value":1.83e8},{"region":"Africa","period":"3","year":1956,"value":2.54e8},{"region":"Africa","period":"3","year":1957,"value":2.79e8},{"region":"Africa","period":"3","year":1958,"value":3.07e8},{"region":"Africa","period":"3","year":1959,"value":2.93e8},{"region":"Africa","period":"3","year":1960,"value":4.91e8},{"region":"Africa","period":"3","year":1961,"value":5.15e8},{"region":"Africa","period":"3","year":1962,"value":6.10e8},{"region":"Africa","period":"3","year":1963,"value":7.03e8},{"region":"Africa","period":"3","year":1964,"value":8.32e8},{"region":"Africa","period":"3","year":1965,"value":9.06e8},{"region":"Africa","period":"3","year":1966,"value":9.06e8},{"region":"Africa","period":"3","year":1967,"value":9.06e8},{"region":"Africa","period":"3","year":1968,"value":9.72e8},{"region":"Africa","period":"3","year":1969,"value":1.07e9},{"region":"Africa","period":"3","year":1970,"value":1.31e9},{"region":"Africa","period":"3","year":1971,"value":1.46e9},{"region":"Africa","period":"3","year":1972,"value":1.78e9},{"region":"Africa","period":"3","year":1973,"value":2.65e9},{"region":"Africa","period":"3","year":1974,"value":3.71e9},{"region":"Africa","period":"3","year":1975,"value":4.16e9},{"region":"Africa","period":"3","year":1976,"value":4.16e9},{"region":"Africa","period":"3","year":1977,"value":5.36e9},{"region":"Africa","period":"3","year":1978,"value":5.95e9},{"region":"Africa","period":"3","year":1979,"value":7.31e9},{"region":"Africa","period":"3","year":1980,"value":8.91e9},{"region":"Africa","period":"3","year":1981,"value":8.42e9},{"region":"Africa","period":"3","year":1982,"value":7.74e9},{"region":"Africa","period":"3","year":1983,"value":7.11e9},{"region":"Africa","period":"3","year":1984,"value":6.62e9},{"region":"Africa","period":"3","year":1985,"value":5.83e9},{"region":"Africa","period":"3","year":1986,"value":5.83e9},{"region":"Africa","period":"3","year":1987,"value":6.17e9},{"region":"Africa","period":"3","year":1988,"value":6.72e9},{"region":"Africa","period":"3","year":1989,"value":7.21e9},{"region":"Africa","period":"3","year":1990,"value":8.18e9},{"region":"Africa","period":"3","year":1991,"value":8.07e9},{"region":"Africa","period":"3","year":1992,"value":9.03e9},{"region":"Africa","period":"3","year":1993,"value":8.91e9},{"region":"Africa","period":"3","year":1994,"value":9.97e9},{"region":"Africa","period":"3","year":1995,"value":1.10e10},{"region":"Africa","period":"3","year":1996,"value":1.12e10},{"region":"Africa","period":"3","year":1997,"value":1.15e10},{"region":"Africa","period":"3","year":1998,"value":1.20e10},{"region":"Africa","period":"3","year":1999,"value":1.21e10},{"region":"Africa","period":"3","year":2000,"value":1.25e10},{"region":"Africa","period":"3","year":2001,"value":1.30e10},{"region":"Africa","period":"3","year":2002,"value":1.48e10},{"region":"Africa","period":"3","year":2003,"value":1.75e10},{"region":"Africa","period":"3","year":2004,"value":2.14e10},{"region":"Africa","period":"3","year":2005,"value":2.68e10},{"region":"Africa","period":"3","year":2006,"value":3.26e10},{"region":"Africa","period":"3","year":2007,"value":3.97e10},{"region":"Africa","period":"3","year":2008,"value":4.58e10},{"region":"Africa","period":"3","year":2009,"value":3.86e10}
    ],
    "trend": [
      {"period":"1","year":1870,"value":3.16e8},{"period":"1","year":1913,"value":9.95e8},
      {"period":"2","year":1921,"value":2.01e9},{"period":"2","year":1937,"value":1.36e9},
      {"period":"3","year":1948,"value":3.72e9},{"period":"3","year":2009,"value":1.75e12}
    ]
  },
  "layer": [
    {
      "data": {"name": "trade"},
      "mark": {"type": "line", "strokeWidth": 1.6, "clip": true, "strokeJoin": "round", "strokeCap": "round"},
      "encoding": {
        "x": {
          "field": "year", "type": "quantitative",
          "scale": {"domain": [1864.45, 2012.77], "nice": false, "zero": false},
          "axis": {
            "orient": "bottom", "values": [1880, 1900, 1920, 1940, 1960, 1980, 2000], "format": "d",
            "title": "Year", "grid": true, "labelPadding": 9,
            "titleX": 420, "titleY": 66, "titleBaseline": "middle", "titleAnchor": "start", "titleAlign": "center"
          }
        },
        "y": {
          "field": "value", "type": "quantitative",
          "scale": {"type": "log", "domain": [5.57e5, 3.73e12], "nice": false},
          "axis": {
            "values": [1e6, 1e7, 1e8, 1e9, 1e10, 1e11, 1e12],
            "labelExpr": "['10⁶','10⁷','10⁸','10⁹','10¹⁰','10¹¹','10¹²'][round(log(datum.value)/LN10)-6]",
            "title": "Trade value [$US]", "grid": true, "labelPadding": 5,
            "titleX": -65, "titleY": 279, "titleBaseline": "middle", "titleAlign": "center", "titleAngle": 270
          }
        },
        "color": {
          "field": "region", "type": "nominal",
          "scale": {
            "domain": ["World", "Europe", "North America", "South America", "Asia", "Oceania", "Africa"],
            "range": ["#333333", "#ff3030", "#22c822", "#2a2aff", "#22ffff", "#ff30ff", "#ffff00"]
          },
          "legend": {
            "orient": "none", "legendX": 0, "legendY": 0, "title": null,
            "symbolType": "M-2,0H2", "symbolSize": 324, "symbolStrokeWidth": 1.6,
            "symbolOffset": 12.7, "labelOffset": 24.5,
            "labelFontSize": 19.5, "labelFont": "Liberation Sans", "labelColor": "#1a1a1a", "labelLimit": 400,
            "padding": 13.3, "rowPadding": 4,
            "fillColor": "white", "strokeColor": "#222222"
          }
        },
        "detail": {"field": "period", "type": "nominal"}
      }
    },
    {
      "data": {"name": "trend"},
      "mark": {"type": "line", "color": "black", "strokeWidth": 4, "strokeDash": [15, 11], "strokeCap": "butt", "clip": true},
      "encoding": {
        "x": {
          "field": "year", "type": "quantitative",
          "axis": {"orient": "top", "labels": false, "ticks": false, "grid": false, "title": null, "domainColor": "#555555", "domainWidth": 1.5}
        },
        "y": {"field": "value", "type": "quantitative"},
        "detail": {"field": "period", "type": "nominal"}
      }
    }
  ],
  "resolve": {"axis": {"x": "independent"}}
}
